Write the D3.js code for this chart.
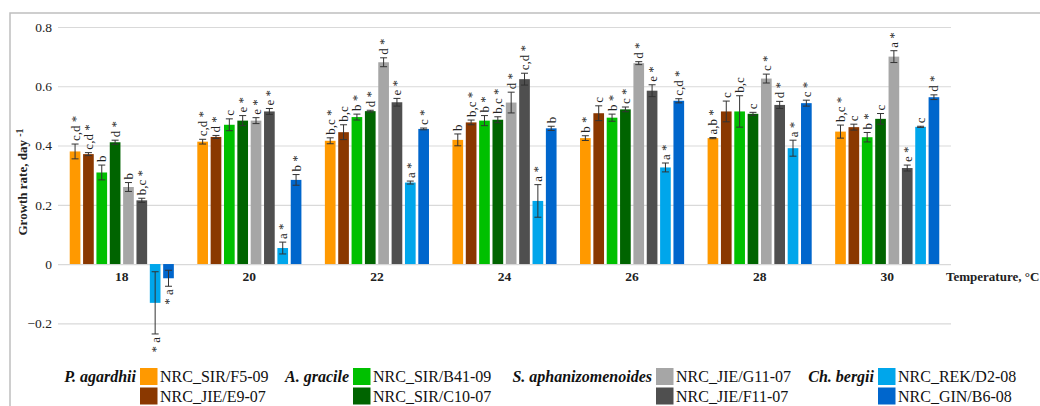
<!DOCTYPE html>
<html><head><meta charset="utf-8">
<script src="https://cdn.jsdelivr.net/npm/d3@7"></script>
<style>
body{margin:0;background:#fff;}
svg text{font-family:"Liberation Serif","Times New Roman","DejaVu Serif",serif;}
</style></head>
<body><svg id="c" width="1040" height="406"></svg>
<script>
const categories = ["18","20","22","24","26","28","30"];
const strains = ["NRC_SIR/F5-09","NRC_JIE/E9-07","NRC_SIR/B41-09","NRC_SIR/C10-07","NRC_JIE/G11-07","NRC_JIE/F11-07","NRC_REK/D2-08","NRC_GIN/B6-08"];
const species = ["P. agardhii","A. gracile","S. aphanizomenoides","Ch. bergii"];
const colors = ["#ff9900","#8a3800","#00c000","#006400","#a6a6a6","#4f4f4f","#00a6eb","#0066cc"];
const yTicks = [-0.2,0,0.2,0.4,0.6,0.8];

const valF5  = [0.380,0.413,0.416,0.419,0.425,0.425,0.447];
const valE9  = [0.371,0.429,0.445,0.478,0.509,0.515,0.462];
const valB41 = [0.309,0.470,0.496,0.484,0.494,0.515,0.428];
const valC10 = [0.411,0.484,0.516,0.487,0.522,0.507,0.490];
const valG11 = [0.260,0.484,0.681,0.545,0.678,0.626,0.700];
const valF11 = [0.215,0.515,0.546,0.624,0.585,0.537,0.324];
const valD2  = [-0.131,0.054,0.275,0.213,0.326,0.391,0.463];
const valB6  = [-0.048,0.284,0.456,0.458,0.551,0.543,0.563];

const errF5  = [0.025,0.008,0.010,0.020,0.008,0.002,0.022];
const errE9  = [0.005,0.005,0.025,0.008,0.025,0.035,0.010];
const errB41 = [0.025,0.020,0.010,0.017,0.012,0.053,0.016];
const errC10 = [0.007,0.017,0.003,0.010,0.008,0.005,0.018];
const errG11 = [0.015,0.010,0.015,0.035,0.005,0.015,0.020];
const errF11 = [0.007,0.010,0.013,0.020,0.020,0.012,0.010];
const errD2  = [0.105,0.020,0.005,0.055,0.015,0.027,0.002];
const errB6  = [0.027,0.018,0.003,0.007,0.007,0.010,0.008];

const lblF5  = ["c,d *","c,d *","b,c *","b","b *","a,b *","b,c *"];
const lblE9  = ["c,d *","d *","b,c","b,c *","c","c","c"];
const lblB41 = ["b","c","b *","b *","b *","b,c","b *"];
const lblC10 = ["d *","e *","d *","b,c *","c *","c","c"];
const lblG11 = ["b","e *","d *","d *","d *","c *","a *"];
const lblF11 = ["b,c *","e *","e *","c,d *","e *","d *","e *"];
const lblD2  = ["a *","a *","a *","a *","a *","a *","c"];
const lblB6  = ["a *","b *","c *","b","c,d *","c *","d *"];

const values = [valF5,valE9,valB41,valC10,valG11,valF11,valD2,valB6];
const errors = [errF5,errE9,errB41,errC10,errG11,errF11,errD2,errB6];
const labels = [lblF5,lblE9,lblB41,lblC10,lblG11,lblF11,lblD2,lblB6];

const rows = [];
categories.forEach((c,ci)=>strains.forEach((s,si)=>rows.push({cat:c,s:s,si:si,v:values[si][ci],e:errors[si][ci],l:labels[si][ci]})));

const svg = d3.select("#c");
svg.append("path").attr("d","M10,406 V13 H1040").attr("fill","none").attr("stroke","#bfbfbf").attr("stroke-width",1.5);

const x0 = d3.scaleBand().domain(categories).range([58,951]).padding(0);
const gw = x0.bandwidth()*0.837;
const x1 = d3.scaleBand().domain(strains).range([(x0.bandwidth()-gw)/2,(x0.bandwidth()+gw)/2]).paddingInner(0.2).paddingOuter(0.1);
const y = d3.scaleLinear().domain([-0.2,0.8]).range([323.3,27]);

const yAxis = d3.axisLeft(y).tickValues(yTicks).tickSize(-(951-58)).tickFormat(d=>d===0?"0":d3.format(".1f")(d)).tickPadding(6);
const gy = svg.append("g").attr("transform","translate(58,0)").call(yAxis);
gy.select(".domain").remove();
gy.selectAll(".tick line").attr("stroke","#d9d9d9").attr("stroke-width",1.2);
gy.selectAll(".tick text").attr("font-size",13.5).attr("fill","#222");

const bars = svg.append("g");
bars.selectAll("rect").data(rows).join("rect")
  .attr("x",d=>x0(d.cat)+x1(d.s))
  .attr("width",x1.bandwidth())
  .attr("y",d=>y(Math.max(0,d.v)))
  .attr("height",d=>Math.abs(y(d.v)-y(0)))
  .attr("fill",d=>colors[d.si]);

const eb = svg.append("g").attr("stroke","#333").attr("stroke-width",1).attr("fill","none");
rows.forEach(d=>{
  const cx = x0(d.cat)+x1(d.s)+x1.bandwidth()/2;
  const yt = y(d.v+d.e), yb = y(d.v-d.e);
  eb.append("line").attr("x1",cx).attr("x2",cx).attr("y1",yt).attr("y2",yb);
  eb.append("line").attr("x1",cx-3.5).attr("x2",cx+3.5).attr("y1",yt).attr("y2",yt);
  eb.append("line").attr("x1",cx-3.5).attr("x2",cx+3.5).attr("y1",yb).attr("y2",yb);
});

svg.append("g").selectAll("text").data(rows).join("text")
  .attr("transform",d=>{
    const cx = x0(d.cat)+x1(d.s)+x1.bandwidth()/2;
    const yy = d.v>=0 ? y(d.v+d.e)-3 : y(d.v-d.e)+3;
    return `translate(${cx},${yy}) rotate(-90)`;
  })
  .attr("text-anchor",d=>d.v>=0?"start":"end")
  .attr("dominant-baseline","central")
  .attr("font-size",13)
  .attr("fill","#222")
  .text(d=>d.v>=0?d.l:d.l.split(" ").reverse().join(" "));

svg.append("g").selectAll("text").data(categories).join("text")
  .attr("x",d=>x0(d)+x0.bandwidth()/2).attr("y",281)
  .attr("text-anchor","middle").attr("font-weight","bold").attr("font-size",13.5).attr("fill","#222")
  .text(d=>d);
svg.append("text").attr("x",946).attr("y",281).attr("font-weight","bold").attr("font-size",13).attr("fill","#222").text("Temperature, °C");

const yl = svg.append("text").attr("transform","translate(27,182) rotate(-90)").attr("text-anchor","middle")
  .attr("font-weight","bold").attr("font-size",13).attr("fill","#222");
yl.append("tspan").text("Growth rate, day ");
yl.append("tspan").attr("dy",-4).attr("font-size",10).text("-1");

const legX = [140,353,656,878];
const leg = svg.append("g");
species.forEach((sp,i)=>{
  leg.append("text").attr("x",legX[i]-4).attr("y",382).attr("text-anchor","end")
    .attr("font-weight","bold").attr("font-style","italic").attr("font-size",16).attr("fill","#111").text(sp);
  [0,1].forEach(r=>{
    const si = i*2+r;
    leg.append("rect").attr("x",legX[i]).attr("y",368+r*19.5).attr("width",17.5).attr("height",17).attr("fill",colors[si]);
    leg.append("text").attr("x",legX[i]+20).attr("y",382+r*19.5).attr("font-size",16).attr("fill","#111").text(strains[si]);
  });
});
</script></body></html>
